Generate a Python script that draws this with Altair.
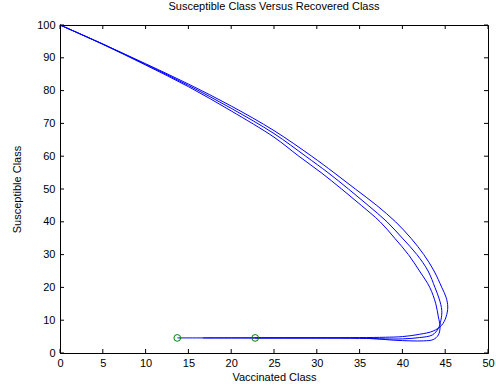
import altair as alt
import pandas as pd

# Curve A (outer)
a_x = [0, 5, 10, 15, 20, 25, 29.4, 32, 34.5, 37, 39.2, 41, 42.5, 43.7, 44.6, 45.1, 45.3, 45.1, 44.6, 43.6, 42, 40, 38, 35, 30, 25, 22.8]
a_y = [100, 94.2, 88.2, 82.0, 75.3, 67.8, 60, 55, 50, 45, 40, 35, 30, 25, 20, 17, 14, 11, 8.5, 6.7, 5.7, 5.0, 4.8, 4.7, 4.6, 4.6, 4.6]
# Curve B (middle)
b_x = [0, 5, 10, 15, 20, 25, 28.7, 31.3, 33.7, 36, 38.2, 40, 41.7, 43, 43.8, 44.3, 44.6, 44.5, 44.2, 43.5, 42, 40, 38, 35, 30, 25, 20, 16.7]
b_y = [100, 94.2, 88.0, 81.6, 74.6, 66.9, 60, 55, 50, 45, 40, 35, 30, 25, 20, 16.5, 13, 10, 7.5, 5.5, 4.7, 4.3, 4.3, 4.5, 4.6, 4.6, 4.6, 4.6]
# Curve C (inner)
c_x = [0, 5, 10, 15, 20, 25, 27.9, 30.5, 32.9, 35.2, 37.4, 39.1, 40.7, 42, 43.2, 43.9, 44.2, 44.4, 44.2, 43.6, 42.5, 41, 39, 37, 35, 30, 20, 13.7]
c_y = [100, 94.1, 87.8, 81.2, 73.8, 65.8, 60, 55, 50, 45, 40, 35, 30, 25, 20, 15, 11, 8, 5.5, 4.1, 3.7, 3.7, 3.9, 4.3, 4.5, 4.6, 4.6, 4.6]

# End markers
end_x = [13.7, 22.8]
end_y = [4.6, 4.6]

x_ticks = [0, 5, 10, 15, 20, 25, 30, 35, 40, 45, 50]
y_ticks = [0, 10, 20, 30, 40, 50, 60, 70, 80, 90, 100]

W, H = 428, 328

rows = []
for name, xs, ys in (("A", a_x, a_y), ("B", b_x, b_y), ("C", c_x, c_y)):
    for i, (xv, yv) in enumerate(zip(xs, ys)):
        rows.append({"curve": name, "i": i, "x": xv, "y": yv})
curves = pd.DataFrame(rows)
ends = pd.DataFrame({"x": end_x, "y": end_y})
xt = pd.DataFrame({"x": x_ticks})
yt = pd.DataFrame({"y": y_ticks})

xs = alt.Scale(domain=[0, 50], nice=False, zero=False)
ys = alt.Scale(domain=[0, 100], nice=False, zero=False)

x_axis = alt.Axis(values=x_ticks, title="Vaccinated Class", ticks=False, grid=False,
                  labelFlush=False, labelOverlap=False, labelPadding=4, titlePadding=3, format="d")
y_axis = alt.Axis(values=y_ticks, title="Susceptible Class", ticks=False, grid=False,
                  labelFlush=False, labelOverlap=False, labelPadding=5, titlePadding=14, format="d")

X = alt.X("x:Q", scale=xs, axis=x_axis)
Y = alt.Y("y:Q", scale=ys, axis=y_axis)

lines = alt.Chart(curves).mark_line(color="#0000ff", strokeWidth=1, interpolate="catmull-rom").encode(
    x=X, y=Y, detail="curve:N", order="i:Q",
)

circles = alt.Chart(ends).mark_point(shape="circle", filled=False, color="#008000", size=45, strokeWidth=1, opacity=1).encode(
    x=X, y=Y,
)

tb = alt.Chart(xt).mark_rule(color="black", strokeWidth=1).encode(
    x=X, y=alt.value(H), y2=alt.value(H - 4))
tt = alt.Chart(xt).mark_rule(color="black", strokeWidth=1).encode(
    x=X, y=alt.value(0), y2=alt.value(4))
tl = alt.Chart(yt).mark_rule(color="black", strokeWidth=1).encode(
    y=Y, x=alt.value(0), x2=alt.value(4))
tr = alt.Chart(yt).mark_rule(color="black", strokeWidth=1).encode(
    y=Y, x=alt.value(W), x2=alt.value(W - 4))

chart = alt.layer(lines, circles, tb, tt, tl, tr).properties(
    width=W, height=H,
    title=alt.TitleParams("Susceptible Class Versus Recovered Class", fontSize=11,
                          fontWeight="normal", font="Liberation Sans", color="black", offset=7),
    autosize=alt.AutoSizeParams(type="none"),
    padding={"left": 60, "top": 25, "right": 8, "bottom": 37},
    background="white",
).configure_view(
    stroke="black", strokeWidth=1
).configure_axis(
    domainColor="black", labelFont="Liberation Sans", titleFont="Liberation Sans",
    labelFontSize=11, titleFontSize=11, titleFontWeight="normal", labelColor="black",
    titleColor="black"
)

chart.save("out.html", embed_options={"renderer": "svg", "actions": False})
